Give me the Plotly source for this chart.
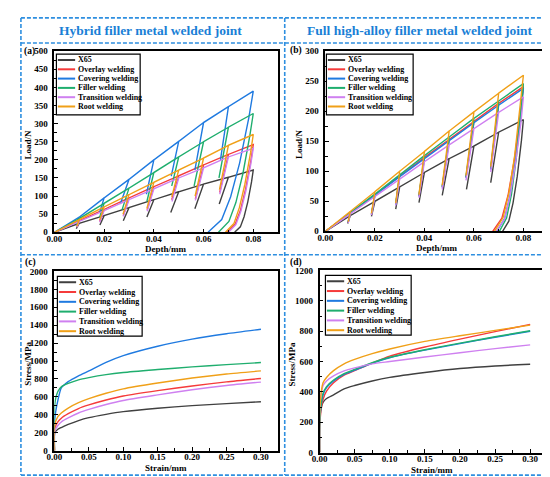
import plotly.graph_objects as go

W, H = 550, 477
FONT = "Liberation Serif"
BLUE = "#1a7fd6"
DASH_BLUE = "#2e8fe0"

SERIES = ["X65", "Overlay welding", "Covering welding", "Filler welding",
          "Transition welding", "Root welding"]
COLORS = ["#404040", "#f53b3b", "#1f7ae0", "#1fae6e", "#cf80f0", "#f0a018"]

# indentation depth at the end of each loading step (mm)
STEP_DEPTH = [0.01, 0.02, 0.03, 0.04, 0.05, 0.06, 0.07, 0.08]

# ---- (a) hybrid filler metal joint: load-depth ----
A_PEAK = [
    [25, 46, 68, 90, 112, 133, 152, 172],
    [32, 63, 95, 126, 156, 186, 215, 242],
    [42, 95, 146, 200, 251, 303, 347, 390],
    [38, 80, 122, 165, 208, 250, 290, 328],
    [30, 60, 90, 120, 150, 178, 208, 232],
    [35, 70, 104, 138, 172, 205, 240, 270],
]
A_DIP_DEPTH = [
    [0.0088, 0.0183, 0.0277, 0.0372, 0.0468, 0.0565, 0.0663],
    [0.0090, 0.0182, 0.0277, 0.0373, 0.0472, 0.0567, 0.0665],
    [0.0090, 0.0182, 0.0265, 0.0370, 0.0470, 0.0565, 0.0668],
    [0.0090, 0.0182, 0.0272, 0.0372, 0.0472, 0.0562, 0.0662],
    [0.0090, 0.0182, 0.0277, 0.0373, 0.0473, 0.0567, 0.0665],
    [0.0090, 0.0182, 0.0276, 0.0372, 0.0472, 0.0566, 0.0664],
]
A_DIP_LOAD = [
    [10, 20, 32, 42, 55, 65, 78],
    [15, 30, 46, 62, 90, 92, 110],
    [24, 55, 78, 105, 155, 172, 200],
    [20, 42, 62, 85, 128, 128, 150],
    [14, 28, 44, 58, 85, 88, 105],
    [17, 34, 50, 66, 98, 100, 118],
]
A_TAIL_DEPTH = [
    [0.0793, 0.0778, 0.0763, 0.0748, 0.0725],
    [0.0790, 0.0769, 0.0748, 0.0727, 0.0695],
    [0.0782, 0.0745, 0.0709, 0.0673, 0.0618],
    [0.0786, 0.0758, 0.0730, 0.0702, 0.0660],
    [0.0790, 0.0770, 0.0750, 0.0730, 0.0700],
    [0.0789, 0.0766, 0.0744, 0.0722, 0.0688],
]
A_TAIL_LOAD = [
    [139, 84, 43, 15, 0],
    [196, 119, 60, 22, 0],
    [316, 191, 98, 35, 0],
    [266, 161, 82, 30, 0],
    [188, 114, 58, 21, 0],
    [219, 132, 68, 24, 0],
]

# ---- (b) full high-alloy filler metal joint: load-depth ----
B_PEAK = [
    [26, 50, 74, 98, 121, 142, 165, 186],
    [30, 61, 92, 123, 153, 183, 213, 241],
    [30, 60, 91, 121, 151, 181, 210, 238],
    [31, 62, 94, 126, 157, 188, 217, 246],
    [29, 58, 87, 116, 144, 171, 198, 224],
    [33, 66, 100, 133, 167, 199, 230, 260],
]
B_DIP_DEPTH = [
    [0.0090, 0.0186, 0.0284, 0.0378, 0.0472, 0.0570, 0.0668],
    [0.0092, 0.0186, 0.0284, 0.0378, 0.0472, 0.0568, 0.0668],
    [0.0092, 0.0186, 0.0284, 0.0378, 0.0472, 0.0568, 0.0668],
    [0.0092, 0.0186, 0.0284, 0.0378, 0.0472, 0.0568, 0.0668],
    [0.0092, 0.0186, 0.0284, 0.0378, 0.0472, 0.0568, 0.0668],
    [0.0092, 0.0186, 0.0284, 0.0378, 0.0472, 0.0568, 0.0668],
]
B_DIP_LOAD = [
    [13, 25, 37, 48, 60, 70, 81],
    [15, 28, 45, 59, 74, 90, 104],
    [15, 28, 44, 58, 73, 89, 103],
    [16, 29, 46, 60, 75, 91, 106],
    [14, 27, 43, 56, 70, 85, 99],
    [16, 30, 47, 61, 77, 93, 108],
]
B_TAIL_DEPTH = [
    [0.0792, 0.0775, 0.0758, 0.0741, 0.0716],
    [0.0788, 0.0763, 0.0738, 0.0713, 0.0676],
    [0.0789, 0.0768, 0.0746, 0.0724, 0.0692],
    [0.0790, 0.0771, 0.0752, 0.0732, 0.0703],
    [0.0790, 0.0767, 0.0745, 0.0723, 0.0690],
    [0.0788, 0.0765, 0.0742, 0.0718, 0.0683],
]
B_TAIL_LOAD = [
    [151, 91, 47, 17, 0],
    [195, 118, 60, 22, 0],
    [193, 117, 60, 21, 0],
    [199, 121, 62, 22, 0],
    [181, 110, 56, 20, 0],
    [211, 127, 65, 23, 0],
]

# ---- (c), (d) stress-strain ----
STRAIN = [0, 0.0005, 0.005, 0.01, 0.02, 0.035, 0.05, 0.075, 0.10, 0.15, 0.20, 0.25, 0.30]
C_STRESS = [
    [0, 200, 238, 258, 292, 335, 368, 405, 435, 473, 502, 525, 545],
    [0, 250, 320, 362, 412, 470, 510, 565, 610, 670, 722, 768, 805],
    [0, 350, 560, 700, 770, 835, 890, 985, 1060, 1165, 1245, 1305, 1355],
    [0, 520, 660, 712, 750, 790, 815, 848, 872, 905, 935, 960, 983],
    [0, 220, 280, 320, 365, 420, 460, 515, 560, 622, 680, 727, 765],
    [0, 290, 380, 420, 475, 535, 580, 640, 690, 755, 810, 855, 890],
]
D_STRESS = [
    [0, 250, 330, 356, 380, 420, 442, 472, 496, 528, 554, 571, 582],
    [0, 200, 350, 405, 460, 510, 540, 590, 636, 696, 748, 797, 845],
    [0, 220, 380, 428, 472, 515, 543, 588, 625, 675, 718, 760, 800],
    [0, 220, 390, 435, 478, 520, 548, 592, 628, 678, 721, 763, 803],
    [0, 300, 440, 472, 505, 538, 558, 585, 600, 630, 658, 685, 710],
    [0, 300, 460, 495, 540, 585, 614, 652, 683, 733, 770, 805, 840],
]

# panel boxes in pixels: left, right, top, bottom
PANELS = {
    "a": (39, 266, 39, 224),
    "b": (314, 540, 39, 223),
    "c": (39, 266, 264, 447),
    "d": (308, 536, 263, 449),
}


def px(x):
    return x / W


def py(y):
    return 1 - y / H


def load_path(peaks, dip_x, dip_y, tail_x, tail_y):
    xs, ys = [0.0], [0.0]
    for i, (h, p) in enumerate(zip(STEP_DEPTH, peaks)):
        xs.append(h)
        ys.append(p)
        if i < len(dip_x):
            xs += [dip_x[i], h]
            ys += [dip_y[i], p]
    return xs + tail_x, ys + tail_y


fig = go.Figure()

for i, name in enumerate(SERIES):
    x, y = load_path(A_PEAK[i], A_DIP_DEPTH[i], A_DIP_LOAD[i], A_TAIL_DEPTH[i], A_TAIL_LOAD[i])
    fig.add_scatter(x=x, y=y, mode="lines", name=name, xaxis="x", yaxis="y",
                    line=dict(color=COLORS[i], width=1.4), showlegend=False)
for i, name in enumerate(SERIES):
    x, y = load_path(B_PEAK[i], B_DIP_DEPTH[i], B_DIP_LOAD[i], B_TAIL_DEPTH[i], B_TAIL_LOAD[i])
    fig.add_scatter(x=x, y=y, mode="lines", name=name, xaxis="x2", yaxis="y2",
                    line=dict(color=COLORS[i], width=1.4), showlegend=False)
for i, name in enumerate(SERIES):
    fig.add_scatter(x=STRAIN, y=C_STRESS[i], mode="lines", name=name, xaxis="x3", yaxis="y3",
                    line=dict(color=COLORS[i], width=1.4, shape="spline", smoothing=0.6),
                    showlegend=False)
for i, name in enumerate(SERIES):
    fig.add_scatter(x=STRAIN, y=D_STRESS[i], mode="lines", name=name, xaxis="x4", yaxis="y4",
                    line=dict(color=COLORS[i], width=1.4, shape="spline", smoothing=0.6),
                    showlegend=False)

tickfont = dict(family=FONT, size=9, color="black", weight="bold")


def axis(domain, rng, dtick, minor, fmt=None, anchor=None, standoff=0):
    d = dict(domain=domain, range=rng, dtick=dtick, tick0=0, ticks="inside", ticklen=4,
             tickwidth=1.2, tickcolor="black", showline=True, linewidth=1.6,
             linecolor="black", mirror=True, showgrid=False, zeroline=False,
             tickfont=tickfont, anchor=anchor, ticklabelstandoff=standoff,
             minor=dict(dtick=minor, tick0=0, ticks="inside", ticklen=2.5,
                        tickcolor="black", tickwidth=1))
    if fmt:
        d["tickformat"] = fmt
    return d


axes_cfg = [
    ("a", "", [0, 0.09], 0.02, 0.01, [0, 500], 50, 25),
    ("b", "2", [0, 0.09], 0.02, 0.01, [0, 300], 50, 25),
    ("c", "3", [0, 0.325], 0.05, 0.025, [0, 2000], 200, 100),
    ("d", "4", [0, 0.32], 0.05, 0.025, [0, 1200], 200, 100),
]
layout_axes = {}
for key, n, xr, xdt, xmin, yr, ydt, ymin in axes_cfg:
    l, r, t, b = PANELS[key]
    layout_axes["xaxis" + n] = axis([px(l), px(r)], xr, xdt, xmin, ".2f", "y" + n, -3)
    layout_axes["yaxis" + n] = axis([py(b), py(t)], yr, ydt, ymin, None, "x" + n, 3)

fig.update_layout(
    width=W, height=H, autosize=False,
    margin=dict(l=0, r=0, t=0, b=0),
    paper_bgcolor="white", plot_bgcolor="white",
    showlegend=False,
    **layout_axes,
)

shapes = []
annotations = []

# dashed frame around the figure and its panels
dash = dict(color=DASH_BLUE, width=1.6, dash="4px,2px")
for x0, y0, x1, y1 in [(5, 5, 545, 5), (5, 472, 545, 472), (5, 5, 5, 472),
                       (545, 5, 545, 472), (5, 30.7, 545, 30.7), (5, 247, 545, 247),
                       (272.7, 5, 272.7, 472)]:
    shapes.append(dict(type="line", xref="paper", yref="paper",
                       x0=px(x0), y0=py(y0), x1=px(x1), y1=py(y1), line=dash))

for text, cx in [("Hybrid filler metal welded joint", 136),
                 ("Full high-alloy filler metal welded joint", 410)]:
    annotations.append(dict(text=text, x=px(cx), y=py(18), xref="paper", yref="paper",
                            showarrow=False, xanchor="center", yanchor="middle",
                            font=dict(family=FONT, size=13.5, color=BLUE, weight="bold")))

label_font = dict(family=FONT, size=9.5, color="black", weight="bold")
title_font = dict(family=FONT, size=9, color="black", weight="bold")
for key, lx, ly in [("a", 14, 39), ("b", 284, 38), ("c", 14.5, 255), ("d", 284, 255)]:
    annotations.append(dict(text="(%s)" % key, x=px(lx), y=py(ly), xref="paper", yref="paper",
                            showarrow=False, xanchor="center", yanchor="middle", font=label_font))

for key, xt, yt in [("a", "Depth/mm", "Load/N"), ("b", "Depth/mm", "Load/N"),
                    ("c", "Strain/mm", "Stress/MPa"), ("d", "Strain/mm", "Stress/MPa")]:
    l, r, t, b = PANELS[key]
    annotations.append(dict(text=xt, x=px((l + r) / 2), y=py(b + 17.5), xref="paper",
                            yref="paper", showarrow=False, xanchor="center",
                            yanchor="middle", font=title_font))
    annotations.append(dict(text=yt, x=px(l - 27), y=py((t + b) / 2 + 3), xref="paper",
                            yref="paper", showarrow=False, xanchor="center",
                            yanchor="middle", textangle=-90, font=title_font))

# legend boxes drawn by hand: left, top, right, bottom, row pitch
LEGENDS = {
    "a": (41, 42, 126, 104, 9.5),
    "b": (315, 42, 403, 104, 9.5),
    "c": (42, 269, 128, 330, 10),
    "d": (314, 268, 401, 329, 10),
}
leg_font = dict(family=FONT, size=8, color="black", weight="bold")
for key, (l, t, r, b, pitch) in LEGENDS.items():
    shapes.append(dict(type="rect", xref="paper", yref="paper", x0=px(l), x1=px(r),
                       y0=py(b), y1=py(t), line=dict(color="black", width=1.2),
                       fillcolor="white", layer="above"))
    for i, name in enumerate(SERIES):
        yy = t + 6 + i * pitch
        shapes.append(dict(type="line", xref="paper", yref="paper", x0=px(l + 1.5),
                           x1=px(l + 19), y0=py(yy), y1=py(yy),
                           line=dict(color=COLORS[i], width=2), layer="above"))
        annotations.append(dict(text=name, x=px(l + 20), y=py(yy), xref="paper",
                                yref="paper", showarrow=False, xanchor="left",
                                yanchor="middle", font=leg_font))

fig.update_layout(shapes=shapes, annotations=annotations)
fig.write_html("out.html")
